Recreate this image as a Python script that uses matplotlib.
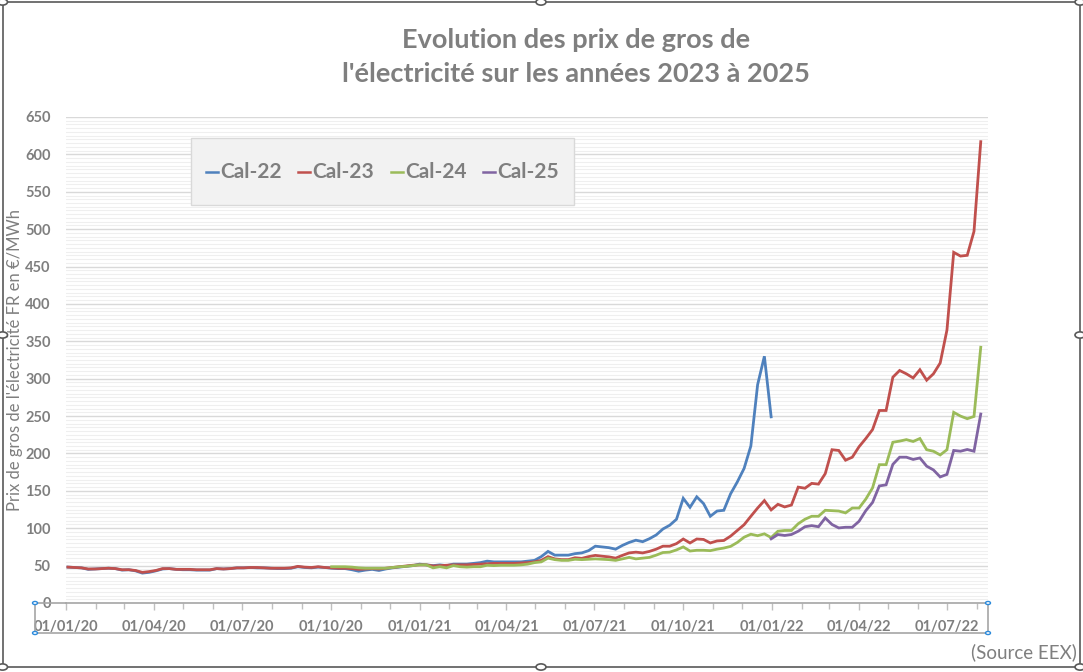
import matplotlib
matplotlib.use("Agg")
import matplotlib.pyplot as plt
import matplotlib.dates as mdates
import numpy as np
import datetime as dt
from matplotlib.patches import Rectangle, Circle
from matplotlib.lines import Line2D

# ---------------- data (weekly quotes, Fridays from 03/01/2020) ----------------
start_date = dt.date(2020, 1, 3)
n_weeks = 136

cal22 = [48, 47.5, 47, 45, 45.5, 46, 46.5, 46, 44, 44.5, 43, 40, 41, 43, 45.5, 46, 45, 44.5, 44.5, 44,
         44, 44, 46, 45.5, 46, 47, 47, 47.5, 47, 47, 46.5, 46, 46, 46.5, 48.5, 47.5, 47, 48, 47.5, 46.5,
         46, 46, 44.5, 42.5, 44, 45, 43.5, 45.5, 47, 48, 49, 50,
         52, 51, 50, 51, 50, 52, 52, 52, 53, 54, 56, 55, 55, 55, 55, 55, 56, 57, 62, 69,
         64, 64, 64, 66, 67, 70, 76, 75, 74, 72, 77, 81, 84, 82, 86, 91, 99, 104, 112, 140,
         128, 142, 133, 116, 123, 124, 146, 162, 180, 210, 292, 330, 249]

cal23 = [48, 47.5, 47, 45.5, 45.5, 46, 46.5, 46, 44.5, 44.5, 43.5, 41, 42, 43.5, 46, 46, 45, 45, 45, 44.5,
         44.5, 44.5, 46, 45.5, 46, 47, 47, 47.5, 47.5, 47, 46.5, 46.5, 46.5, 47, 49, 48, 47.5, 48.5, 47.5, 47,
         46.5, 46.5, 46, 45, 45.5, 46, 45.5, 46.5, 47.5, 48.5, 49.5, 50.5,
         51, 51, 49.5, 50, 50.5, 51, 51, 51, 51.5, 52, 52.5, 53, 53, 53, 53, 53.5, 54, 55, 57, 62,
         59, 58, 58, 60.5, 59.7, 62, 63.7, 62.6, 61.7, 60, 63.7, 67, 68, 67, 69, 72, 76, 76, 79.4, 85.6,
         80.3, 85.6, 85, 80.3, 83, 83.6, 89.4, 97, 104.7, 116, 127, 137, 124.5, 132, 128.5, 131,
         155, 153.5, 160, 159, 173, 205, 204, 191, 195, 209, 220, 232, 257.5, 257.5, 302, 311,
         306.5, 301, 312, 298, 306.5, 321, 365, 469, 464, 465, 497, 617]

cal24_start = 39
cal24 = [48.5, 48.5, 48.5, 48, 47, 46.5, 46.5, 46.5, 46.5, 47.5, 48.5, 49, 50,
         51, 51, 47, 48.5, 47, 50, 48.5, 48, 48.5, 48.5, 50.5, 50, 50.5, 50.5, 50.5, 51, 52, 54, 55, 60,
         58, 57, 57, 58.5, 58, 58.5, 59, 58.5, 58, 57, 59, 61, 59, 60, 61, 64, 67.5, 68, 71, 75,
         69.5, 70.5, 70.5, 70, 72, 73.5, 75.7, 81, 88, 92, 90, 92.5, 87.5, 96, 97, 97,
         106, 112, 116, 116, 124, 123.5, 123, 120.5, 127, 127, 139, 154, 185, 185, 215, 216.5,
         218.5, 216, 220, 205, 203, 198, 205, 255, 250, 246.5, 249.5, 342]

cal25_start = 104
cal25 = [85.8, 91.6, 90.3, 91.6, 96, 102, 103.5, 102, 113.7, 105, 100.4, 101.3, 101.3, 109.3, 123.5,
         134.5, 156.6, 158, 185.4, 195, 195, 192, 194, 183, 178, 168.6, 172, 204, 203, 205.3, 203, 252.7]

series_names = ["Cal-22", "Cal-23", "Cal-24", "Cal-25"]
series_colors = ["#4F81BD", "#C0504D", "#9BBB59", "#8064A2"]

title_lines = ["Evolution des prix de gros de", "l'électricité sur les années 2023 à 2025"]
y_label = "Prix de gros de l'électricité FR en €/MWh"
source_text = "(Source EEX)"

# ---------------- figure ----------------
W, H = 1083, 672
fig = plt.figure(figsize=(W / 100, H / 100), dpi=100)
fig.patch.set_facecolor("white")

FONT = "Lato"
GRAY = "#7F7F7F"

def px(x, y):
    return x / W, 1 - y / H

ax_left, ax_right, ax_top, ax_bot = 66, 988, 117, 603
ax = fig.add_axes([ax_left / W, 1 - ax_bot / H, (ax_right - ax_left) / W, (ax_bot - ax_top) / H])
ax.set_facecolor("white")

dates = [start_date + dt.timedelta(days=7 * i) for i in range(n_weeks)]
d = mdates.date2num(dates)

all_series = [
    (d[:len(cal22)], cal22),
    (d[:len(cal23)], cal23),
    (d[cal24_start:cal24_start + len(cal24)], cal24),
    (d[cal25_start:cal25_start + len(cal25)], cal25),
]
for (xs, ys), c in zip(all_series, series_colors):
    ax.plot(xs, ys, color=c, lw=2.0, solid_joinstyle="miter", zorder=3)

x0 = mdates.date2num(dt.date(2020, 1, 1))
ax.set_xlim(x0, x0 + 954.5)
ax.set_ylim(0, 650)

ax.yaxis.set_major_locator(matplotlib.ticker.MultipleLocator(50))
ax.yaxis.set_minor_locator(matplotlib.ticker.MultipleLocator(5))
ax.grid(which="major", axis="y", color="#D9D9D9", lw=1.0, zorder=1)
ax.grid(which="minor", axis="y", color="#EFEFEF", lw=0.8, zorder=0)
ax.tick_params(axis="y", which="both", length=0, pad=11)
ax.set_yticks(np.arange(0, 651, 50))
ax.set_yticklabels([str(v) for v in range(0, 651, 50)], fontfamily=FONT, fontweight="bold",
                   fontsize=10.5, color=GRAY)

ax.xaxis.set_major_locator(mdates.MonthLocator(bymonth=[1, 4, 7, 10]))
ax.xaxis.set_minor_locator(mdates.MonthLocator())
ax.xaxis.set_major_formatter(mdates.DateFormatter("%d/%m/%y"))
ax.tick_params(axis="x", which="major", length=5, width=1, color="#BFBFBF", pad=7)
ax.tick_params(axis="x", which="minor", length=4, width=1, color="#BFBFBF")
for lab in ax.get_xticklabels():
    lab.set_fontfamily(FONT)
    lab.set_fontweight("bold")
    lab.set_fontsize(10.5)
    lab.set_color(GRAY)

for s in ["top", "right", "left"]:
    ax.spines[s].set_visible(False)
ax.spines["bottom"].set_color("#A6A6A6")
ax.spines["bottom"].set_linewidth(1.2)

# y label
fig.text(15 / W, 1 - 360 / H, y_label, rotation=90, ha="center", va="center",
         fontfamily=FONT, fontsize=12, color=GRAY)

# title
fig.text(576 / W, 1 - 40 / H, title_lines[0], ha="center", va="center",
         fontfamily=FONT, fontweight="bold", fontsize=19.5, color=GRAY)
fig.text(576 / W, 1 - 74 / H, title_lines[1], ha="center", va="center",
         fontfamily=FONT, fontweight="bold", fontsize=19.5, color=GRAY)

# legend box
lx0, ly0, lx1, ly1 = 191, 138, 574, 205
fig.patches.append(Rectangle(px(lx0, ly1), (lx1 - lx0) / W, (ly1 - ly0) / H,
                             transform=fig.transFigure, facecolor="#F2F2F2",
                             edgecolor="#D9D9D9", lw=1, zorder=5))
entry_x = [206, 298, 391, 483]
for ex, name, c in zip(entry_x, series_names, series_colors):
    fig.lines.append(Line2D([ex / W, (ex + 12) / W], [1 - 172 / H, 1 - 172 / H],
                            transform=fig.transFigure, color=c, lw=1.8, zorder=6))
    fig.text((ex + 14) / W, 1 - 172 / H, name, ha="left", va="center",
             fontfamily=FONT, fontweight="bold", fontsize=15, color=GRAY, zorder=6)

# source
fig.text(1077 / W, 1 - 652 / H, source_text, ha="right", va="center",
         fontfamily=FONT, fontsize=13.5, color=GRAY)

# outer chart frame (Excel selection)
frame_col = "#595959"
fl, ft, fr, fb = 2.5, 2, 1080, 667
for xs_, ys_ in [([fl, fr], [ft, ft]), ([fl, fr], [fb, fb]), ([fl, fl], [ft, fb]), ([fr, fr], [ft, fb])]:
    fig.lines.append(Line2D([v / W for v in xs_], [1 - v / H for v in ys_],
                            transform=fig.transFigure, color=frame_col, lw=1.2, zorder=7))
for hx, hy in [(fl, 335), (fr, 335), (541, ft), (541, fb), (fl, ft), (fr, ft), (fl, fb), (fr, fb)]:
    fig.patches.append(Circle(px(hx, hy), 5 / W, transform=fig.transFigure,
                              facecolor="white", edgecolor=frame_col, lw=1.2, zorder=8))

# x axis selection box
sb_col = "#A6A6A6"
fig.lines.append(Line2D([35 / W, 988 / W], [1 - 633 / H, 1 - 633 / H], transform=fig.transFigure,
                        color=sb_col, lw=1.2, zorder=7))
fig.lines.append(Line2D([35 / W, 66 / W], [1 - 603 / H, 1 - 603 / H], transform=fig.transFigure,
                        color=sb_col, lw=1.2, zorder=7))
for vx in [35, 988]:
    fig.lines.append(Line2D([vx / W, vx / W], [1 - 603 / H, 1 - 633 / H], transform=fig.transFigure,
                            color=sb_col, lw=1.2, zorder=7))
for hx, hy in [(35, 603), (35, 633), (988, 603), (988, 633)]:
    fig.patches.append(Circle(px(hx, hy), 2.5 / W, transform=fig.transFigure,
                              facecolor="white", edgecolor="#2E8BDB", lw=1.0, zorder=8))

fig.savefig("out.png", dpi=100, facecolor="white")
